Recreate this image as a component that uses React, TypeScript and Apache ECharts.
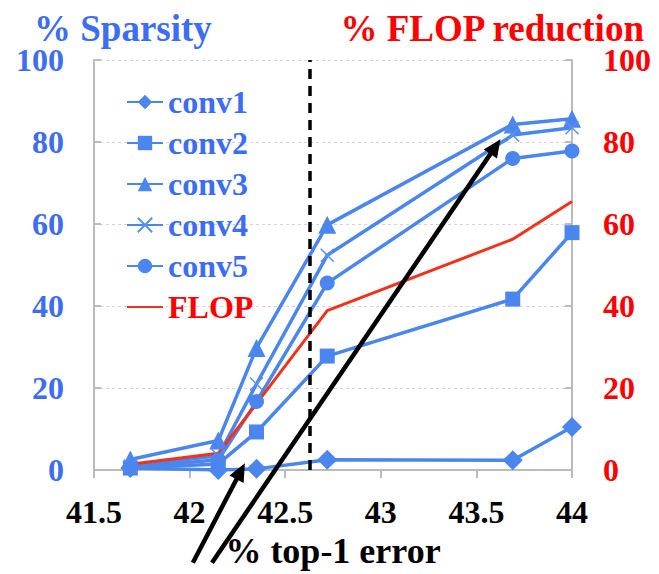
import { useEffect, useRef } from 'react';
import * as echarts from 'echarts';

// % top-1 error (x) for each pruning step
const xValues = [41.69, 42.15, 42.35, 42.72, 43.69, 44.0];
// % sparsity per layer
const conv1 = [0.5, 0.0, 0.3, 2.5, 2.4, 10.5];
const conv2 = [0.5, 1.5, 9.3, 27.8, 41.7, 57.9];
const conv3 = [2.6, 7.2, 29.8, 59.8, 84.3, 85.7];
const conv4 = [1.0, 3.5, 21.0, 52.4, 81.7, 83.5];
const conv5 = [0.6, 2.5, 16.7, 45.6, 76.0, 77.8];
// % FLOP reduction
const flop = [1.4, 4.1, 16.2, 38.9, 56.3, 65.5];
// vertical dashed reference at this error value
const refError = 42.63;
// annotation arrows, [tailX, tailY, tipX, tipY] in data units
const arrows = [
  [42.017, -22.6, 42.289, 1.67],
  [42.117, -22.6, 43.626, 80.7],
];

const FONT = 'Liberation Serif, Times New Roman, serif';
const BLUE = '#4A86EE';
const BLUE_TEXT = '#3D6DF2';
const RED_TEXT = '#FF0000';
const RED_LINE = '#F2321A';

export default function App() {
  const ref = useRef<HTMLDivElement>(null);
  useEffect(() => {
    const chart = echarts.init(ref.current!, null, { renderer: 'svg' });
    const pair = (ys: number[]) => xValues.map((x, i) => [x, ys[i]]);
    const blueSeries = (name: string, ys: number[], symbol: string, size: number | number[], extra: any = {}) => ({
      name,
      type: 'line',
      data: pair(ys),
      symbol,
      symbolSize: size,
      lineStyle: { color: BLUE, width: 3.5 },
      itemStyle: { color: BLUE },
      ...extra,
    });
    chart.setOption({
      animation: false,
      title: [
        {
          text: '% Sparsity',
          left: 34,
          top: 14,
          padding: 0,
          textStyle: { fontFamily: FONT, fontWeight: 'bold', fontSize: 37, lineHeight: 28, color: BLUE_TEXT },
        },
        {
          text: '% FLOP reduction',
          right: 13,
          top: 14,
          padding: 0,
          textStyle: { fontFamily: FONT, fontWeight: 'bold', fontSize: 37, lineHeight: 28, color: RED_TEXT },
        },
      ],
      legend: {
        orient: 'vertical',
        left: 126,
        top: 86,
        padding: 0,
        itemWidth: 36,
        itemHeight: 18,
        itemGap: 9,
        textStyle: { fontFamily: FONT, fontWeight: 'bold', fontSize: 32, color: BLUE_TEXT, lineHeight: 32 },
        data: [
          { name: 'conv1' },
          { name: 'conv2' },
          { name: 'conv3' },
          { name: 'conv4' },
          { name: 'conv5' },
          { name: 'FLOP', textStyle: { color: RED_TEXT }, itemStyle: { color: 'rgba(0,0,0,0)', borderWidth: 0 } },
        ],
      },
      grid: { left: 94, right: 87, top: 60, bottom: 94, containLabel: false },
      xAxis: {
        type: 'value',
        min: 41.5,
        max: 44,
        interval: 0.5,
        name: '% top-1 error',
        nameLocation: 'middle',
        nameGap: 52,
        nameTextStyle: { fontFamily: FONT, fontWeight: 'bold', fontSize: 36, color: '#000' },
        axisLine: { show: true, lineStyle: { color: '#BBBBBB', width: 2 } },
        axisTick: { show: true, inside: false, length: 8, lineStyle: { color: '#BBBBBB', width: 2 } },
        axisLabel: { interval: 0, margin: 26, fontFamily: FONT, fontWeight: 'bold', fontSize: 32, color: '#000' },
        splitLine: { show: false },
      },
      yAxis: [
        {
          type: 'value',
          min: 0,
          max: 100,
          interval: 20,
          position: 'left',
          axisLine: { show: true, lineStyle: { color: '#BBBBBB', width: 2 } },
          axisTick: { show: true, inside: true, length: 7, lineStyle: { color: '#BBBBBB', width: 2 } },
          axisLabel: { margin: 30, fontFamily: FONT, fontWeight: 'bold', fontSize: 32, lineHeight: 28, color: BLUE_TEXT },
          splitLine: { show: true, lineStyle: { color: '#D4D4D4', type: [3, 3], width: 1 } },
        },
        {
          type: 'value',
          min: 0,
          max: 100,
          interval: 20,
          position: 'right',
          axisLine: { show: true, lineStyle: { color: '#BBBBBB', width: 2 } },
          axisTick: { show: true, inside: true, length: 7, lineStyle: { color: '#BBBBBB', width: 2 } },
          axisLabel: { margin: 31, fontFamily: FONT, fontWeight: 'bold', fontSize: 32, lineHeight: 28, color: RED_TEXT },
          splitLine: { show: false },
        },
      ],
      series: [
        blueSeries('conv1', conv1, 'diamond', 20, {
          markLine: {
            silent: true,
            symbol: 'none',
            label: { show: false },
            lineStyle: { color: '#000', type: [10, 7], width: 3.5 },
            data: [{ xAxis: refError }],
          },
        }),
        blueSeries('conv2', conv2, 'rect', 15),
        blueSeries('conv3', conv3, 'triangle', 18),
        blueSeries('conv4', conv4, 'path://M0,0L10,10M0,10L10,0', 13, {
          itemStyle: { color: BLUE, borderColor: '#5A90EE', borderWidth: 1.5 },
        }),
        blueSeries('conv5', conv5, 'circle', 15),
        {
          name: 'FLOP',
          type: 'line',
          yAxisIndex: 1,
          data: pair(flop),
          symbol: 'none',
          lineStyle: { color: RED_LINE, width: 3 },
          itemStyle: { color: RED_LINE },
        },
      ],
    });

    const graphics: any[] = [];
    arrows.forEach(([tx, ty, hx, hy]) => {
      const [x1, y1] = chart.convertToPixel({ gridIndex: 0 }, [tx, ty]) as number[];
      const [x2, y2] = chart.convertToPixel({ gridIndex: 0 }, [hx, hy]) as number[];
      const dx = x2 - x1;
      const dy = y2 - y1;
      const len = Math.hypot(dx, dy);
      const ux = dx / len;
      const uy = dy / len;
      const headLen = 18;
      const headHalf = 8;
      const bx = x2 - ux * headLen;
      const by = y2 - uy * headLen;
      graphics.push({
        type: 'line',
        z: 100,
        shape: { x1, y1, x2: bx + ux * 2, y2: by + uy * 2 },
        style: { stroke: '#000', lineWidth: 4.5 },
      });
      graphics.push({
        type: 'polygon',
        z: 100,
        shape: {
          points: [
            [x2, y2],
            [bx - uy * headHalf, by + ux * headHalf],
            [bx + uy * headHalf, by - ux * headHalf],
          ],
        },
        style: { fill: '#000' },
      });
    });
    chart.setOption({ graphic: graphics });

    return () => chart.dispose();
  }, []);
  return <div ref={ref} style={{ position: 'fixed', left: 0, top: 0, width: 659, height: 574, background: '#fff' }} />;
}
